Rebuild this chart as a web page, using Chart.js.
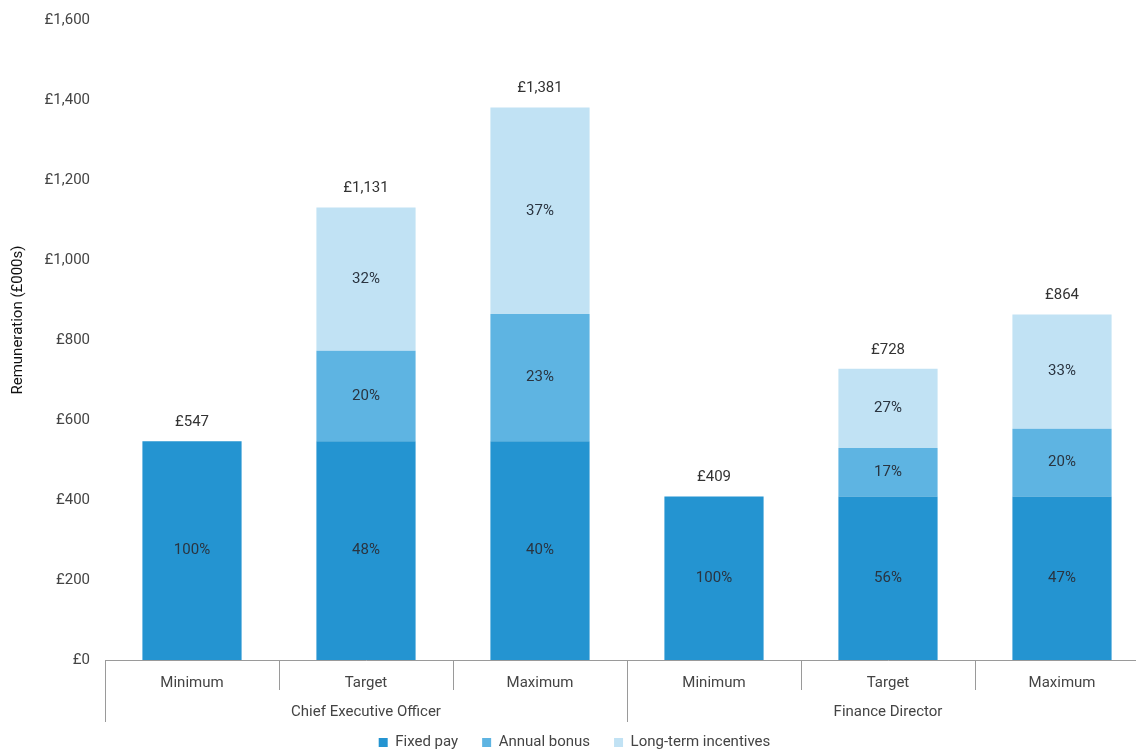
<!DOCTYPE html>
<html>
<head>
<meta charset="utf-8">
<script src="https://cdn.jsdelivr.net/npm/chart.js@4/dist/chart.umd.min.js"></script>
<style>
  html, body { margin: 0; padding: 0; background: #fff; overflow: hidden; }
  #wrap { width: 1150px; height: 750px; }
</style>
</head>
<body>
<div id="wrap"><canvas id="c" width="1150" height="750"></canvas></div>
<script>
// ---- Data (£000s) ----
const categories = ['Minimum', 'Target', 'Maximum', 'Minimum', 'Target', 'Maximum'];
const groups = ['Chief Executive Officer', 'Finance Director'];
const groupSize = 3;
const fixedPay = [547, 547, 547, 409, 409, 409];
const annualBonus = [0, 226, 318, 0, 121, 169];
const longTermIncentives = [0, 358, 516, 0, 198, 286];
const yTicks = [0, 200, 400, 600, 800, 1000, 1200, 1400, 1600];
const yTitle = 'Remuneration (£000s)';

const FONT = 'Roboto, "Liberation Sans", sans-serif';
const fmt = v => '£' + v.toLocaleString('en-GB');

const totals = categories.map((_, i) => fixedPay[i] + annualBonus[i] + longTermIncentives[i]);

const labelPlugin = {
  id: 'labels',
  afterDatasetsDraw(chart) {
    const ctx = chart.ctx;
    ctx.save();
    ctx.font = '15px ' + FONT;
    ctx.textAlign = 'center';
    ctx.textBaseline = 'middle';
    const topY = [];
    chart.data.datasets.forEach((ds, di) => {
      const meta = chart.getDatasetMeta(di);
      meta.data.forEach((el, i) => {
        const v = ds.data[i];
        if (!v) return;
        ctx.fillStyle = '#2a3440';
        const pct = Math.round(v / totals[i] * 100) + '%';
        ctx.fillText(pct, el.x, (el.y + el.base) / 2);
        topY[i] = topY[i] === undefined ? el.y : Math.min(topY[i], el.y);
      });
    });
    ctx.fillStyle = '#333';
    const meta0 = chart.getDatasetMeta(0);
    meta0.data.forEach((el, i) => {
      ctx.fillText(fmt(totals[i]), el.x, topY[i] - 19);
    });
    ctx.restore();
  }
};

const axisPlugin = {
  id: 'groupAxis',
  afterDraw(chart) {
    const xs = chart.scales.x;
    const ctx = chart.ctx;
    const bottom = chart.chartArea.bottom;
    const step = xs.getPixelForValue(1) - xs.getPixelForValue(0);
    ctx.save();
    ctx.strokeStyle = '#9a9a9a';
    ctx.lineWidth = 1;
    for (let i = 0; i <= categories.length; i++) {
      const x = Math.round(xs.getPixelForValue(i) - step / 2) + 0.5;
      const len = (i % groupSize === 0) ? 62 : 30;
      ctx.beginPath();
      ctx.moveTo(x, bottom);
      ctx.lineTo(x, bottom + len);
      ctx.stroke();
    }
    ctx.font = '15px ' + FONT;
    ctx.fillStyle = '#444';
    ctx.textAlign = 'center';
    ctx.textBaseline = 'middle';
    groups.forEach((g, gi) => {
      const a = xs.getPixelForValue(gi * groupSize) - step / 2;
      const b = xs.getPixelForValue(gi * groupSize + groupSize - 1) + step / 2;
      ctx.fillText(g, (a + b) / 2, bottom + 52);
    });
    // y-axis title
    ctx.save();
    ctx.translate(18, 320);
    ctx.rotate(-Math.PI / 2);
    ctx.font = '15px ' + FONT;
    ctx.fillStyle = '#111';
    ctx.fillText(yTitle, 0, 0);
    ctx.restore();
    ctx.restore();
  }
};

new Chart(document.getElementById('c'), {
  type: 'bar',
  data: {
    labels: categories,
    datasets: [
      { label: 'Fixed pay', data: fixedPay, backgroundColor: '#2494d1' },
      { label: 'Annual bonus', data: annualBonus, backgroundColor: '#5eb4e2' },
      { label: 'Long-term incentives', data: longTermIncentives, backgroundColor: '#c1e2f4' }
    ]
  },
  options: {
    responsive: false,
    animation: false,
    layout: { padding: { top: 20, right: 1, left: 0, bottom: -10 } },
    datasets: { bar: { barPercentage: 0.57, categoryPercentage: 1.0 } },
    plugins: {
      legend: {
        position: 'bottom',
        labels: {
          boxWidth: 9, boxHeight: 9, padding: 24,
          color: '#444',
          font: { family: FONT, size: 15 }
        }
      },
      tooltip: { enabled: false }
    },
    scales: {
      x: {
        stacked: true,
        grid: { display: false },
        border: { display: true, color: '#9a9a9a' },
        ticks: { color: '#444', padding: 6, font: { family: FONT, size: 15 } },
        afterFit(s) { s.height = 51; }
      },
      y: {
        stacked: true,
        min: 0, max: 1600,
        afterBuildTicks(s) { s.ticks = yTicks.map(v => ({ value: v })); },
        grid: { display: false },
        border: { display: false },
        ticks: {
          color: '#444', padding: 7,
          font: { family: FONT, size: 15 },
          callback: v => fmt(v)
        },
        afterFit(s) { s.width = 105; }
      }
    }
  },
  plugins: [labelPlugin, axisPlugin]
});
</script>
</body>
</html>
